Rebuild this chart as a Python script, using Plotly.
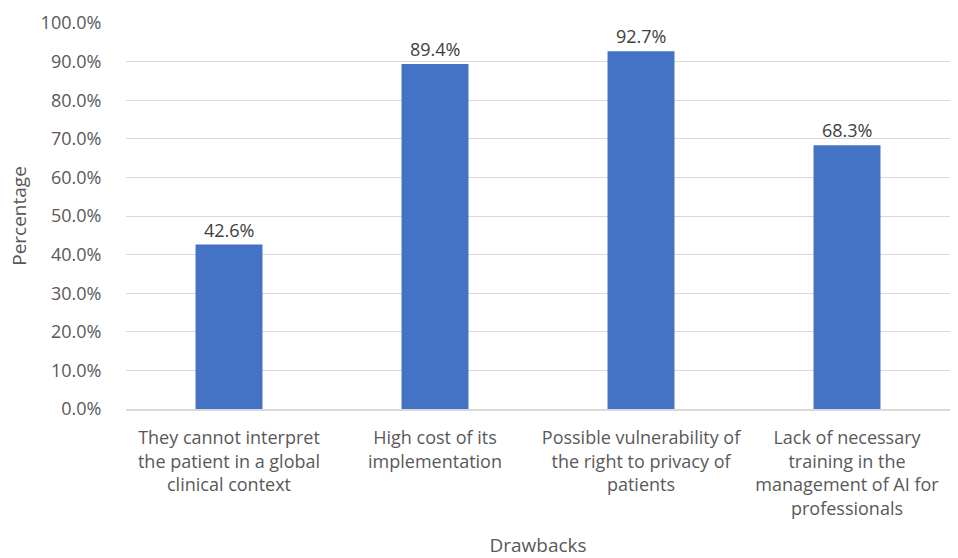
import plotly.graph_objects as go

categories = [
    "They cannot interpret<br>the patient in a global<br>clinical context",
    "High cost of its<br>implementation",
    "Possible vulnerability of<br>the right to privacy of<br>patients",
    "Lack of necessary<br>training in the<br>management of AI for<br>professionals",
]
values = [42.6, 89.4, 92.7, 68.3]
y_ticks = [0, 10, 20, 30, 40, 50, 60, 70, 80, 90, 100]

FONT = "Open Sans, sans-serif"
TEXT = "#595959"

fig = go.Figure(
    go.Bar(
        x=categories,
        y=values,
        marker=dict(color="#4472C4", line=dict(width=0)),
        width=0.325,
        hoverinfo="skip",
    )
)

# value labels sitting a little above each bar
for cat, v in zip(categories, values):
    fig.add_annotation(
        x=cat,
        y=v,
        text=f"{v:.1f}%",
        showarrow=False,
        yanchor="bottom",
        yshift=1,
        font=dict(family=FONT, size=18, color="#404040"),
    )

fig.update_layout(
    width=958,
    height=558,
    margin=dict(l=126, r=8, t=23, b=149),
    paper_bgcolor="white",
    plot_bgcolor="white",
    showlegend=False,
    font=dict(family=FONT, size=18, color=TEXT),
    xaxis=dict(
        title=dict(text="Drawbacks", font=dict(size=19, color=TEXT), standoff=24),
        showline=True,
        linecolor="#D9D9D9",
        linewidth=1.5,
        showgrid=False,
        ticks="outside",
        ticklen=12,
        tickcolor="rgba(0,0,0,0)",
        tickfont=dict(size=18, color=TEXT),
        automargin=False,
    ),
    yaxis=dict(
        title=dict(text="Percentage", font=dict(size=19, color=TEXT), standoff=8),
        range=[0, 100],
        tickvals=y_ticks,
        ticktext=[f"{t:.1f}%" for t in y_ticks],
        showgrid=True,
        gridcolor="#D9D9D9",
        gridwidth=1,
        zeroline=False,
        showline=False,
        ticks="outside",
        ticklen=20,
        tickcolor="rgba(0,0,0,0)",
        tickfont=dict(size=18, color=TEXT),
        automargin=False,
    ),
)

fig.write_html("out.html")
